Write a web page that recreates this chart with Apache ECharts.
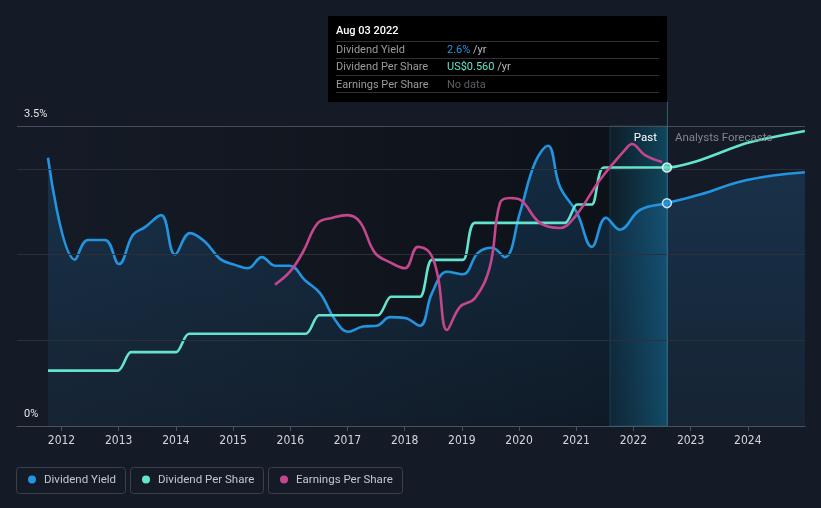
<!DOCTYPE html>
<html>
<head>
<meta charset="utf-8">
<script src="https://cdn.jsdelivr.net/npm/echarts@6/dist/echarts.min.js"></script>
<style>
html,body{margin:0;padding:0;background:#151b26;}
#c{width:821px;height:508px;}
</style>
</head>
<body>
<div id="c"></div>
<script>
// ---- data (x in decimal years) ----
const tickYears = [2012, 2013, 2014, 2015, 2016, 2017, 2018, 2019, 2020, 2021, 2022, 2023, 2024];
const todayYear = 2022.586; // Aug 03 2022
const highlightStart = 2021.59;

const yieldYears = [2011.764, 2012.236, 2012.463, 2012.760, 2013.005, 2013.250, 2013.460, 2013.740, 2013.984, 2014.246, 2014.509, 2014.771, 2015.033, 2015.260, 2015.505, 2015.733, 2015.995, 2016.257, 2016.520, 2016.782, 2017.010, 2017.271, 2017.516, 2017.743, 2018.005, 2018.267, 2018.477, 2018.740, 2019.019, 2019.281, 2019.526, 2019.753, 2020.016, 2020.278, 2020.505, 2020.715, 2021.012, 2021.274, 2021.519, 2021.764, 2022.114, 2022.586, 2023.163, 2023.984, 2024.998];
const yieldValues = [3.13, 1.94, 2.17, 2.17, 1.89, 2.23, 2.32, 2.46, 2.00, 2.25, 2.15, 1.95, 1.88, 1.84, 1.97, 1.87, 1.87, 1.70, 1.55, 1.24, 1.10, 1.16, 1.17, 1.27, 1.26, 1.17, 1.55, 1.80, 1.77, 2.02, 2.08, 1.97, 2.49, 3.07, 3.27, 2.79, 2.49, 2.09, 2.43, 2.29, 2.52, 2.60, 2.70, 2.87, 2.96];

const dpsYears = [2011.764, 2012.988, 2013.215, 2014.002, 2014.229, 2016.275, 2016.502, 2017.533, 2017.760, 2018.267, 2018.477, 2019.019, 2019.229, 2020.802, 2021.012, 2021.274, 2021.484, 2022.586, 2023.163, 2023.984, 2024.998];
const dpsValues = [0.12, 0.12, 0.16, 0.16, 0.20, 0.20, 0.24, 0.24, 0.28, 0.28, 0.36, 0.36, 0.44, 0.44, 0.48, 0.48, 0.56, 0.56, 0.576, 0.613, 0.639];

const epsYears = [2015.733, 2015.995, 2016.222, 2016.484, 2016.747, 2016.991, 2017.219, 2017.481, 2017.743, 2018.005, 2018.232, 2018.442, 2018.582, 2018.740, 2018.967, 2019.229, 2019.491, 2019.666, 2019.841, 2020.016, 2020.365, 2020.715, 2020.977, 2021.414, 2021.851, 2021.974, 2022.202, 2022.500];
const epsValues = [1.65, 1.80, 2.03, 2.37, 2.43, 2.46, 2.38, 2.02, 1.91, 1.84, 2.09, 2.02, 1.74, 1.12, 1.39, 1.49, 1.86, 2.60, 2.66, 2.64, 2.37, 2.31, 2.44, 2.87, 3.22, 3.29, 3.16, 3.08];

const yieldTicks = [0, 3.5];
const gridValues = [1, 2, 3];

const legendNames = ['Dividend Yield', 'Dividend Per Share', 'Earnings Per Share'];
const colors = ['#2394df', '#64e4cf', '#c4478d'];

// ---- build ----
const zip = (xs, ys) => xs.map((x, i) => [x, ys[i]]);
const todayIdxY = yieldYears.indexOf(todayYear);
const todayIdxD = dpsYears.indexOf(todayYear);

const chart = echarts.init(document.getElementById('c'), null, {renderer: 'canvas', width: 821, height: 508});
const axisFont = '"Liberation Sans Narrow", "DejaVu Sans Condensed", "Roboto", sans-serif';
const uiFont = 'Roboto, "Noto Sans", sans-serif';

const option = {
  backgroundColor: '#151b26',
  animation: false,
  grid: {left: 17, right: 16, top: 126, bottom: 82},
  xAxis: {
    type: 'value', min: 2011.222, max: 2025,
    axisLine: {lineStyle: {color: '#4b505a', width: 1}},
    axisTick: {customValues: tickYears, length: 5, lineStyle: {color: '#4b505a'}},
    axisLabel: {customValues: tickYears, color: '#d4d6da', fontFamily: axisFont, fontSize: 12, margin: 9, formatter: v => String(v)},
    splitLine: {show: false}
  },
  yAxis: [
    {type: 'value', min: 0, max: 3.5,
     axisLine: {show: false}, axisTick: {show: false}, splitLine: {show: false},
     axisLabel: {customValues: yieldTicks, inside: true, margin: 7, color: '#e4e4e4', fontFamily: uiFont, fontSize: 11,
                 verticalAlign: 'bottom', padding: [0, 0, 6, 0], formatter: v => v + '%'}},
    {type: 'value', min: 0, max: 0.65, show: false},
    {type: 'value', min: 0, max: 3.5, show: false}
  ],
  series: [
    {
      name: 'bg', type: 'line', data: [], z: 1, silent: true,
      markArea: {
        silent: true,
        data: [
          [{xAxis: yieldYears[0], yAxis: 0, itemStyle: {color: new echarts.graphic.LinearGradient(0, 0, 1, 0, [{offset: 0, color: 'rgba(0,0,0,0)'}, {offset: 1, color: 'rgba(0,0,0,0.42)'}])}}, {xAxis: todayYear, yAxis: 3.5}],
          [{xAxis: highlightStart, yAxis: 0, itemStyle: {color: new echarts.graphic.LinearGradient(0, 0, 1, 0, [{offset: 0, color: 'rgba(20,115,155,0.12)'}, {offset: 1, color: 'rgba(20,125,165,0.5)'}]), borderColor: 'rgba(60,150,180,0.25)', borderWidth: 1}}, {xAxis: todayYear, yAxis: 3.5}]
        ]
      },
      markLine: {
        silent: true, symbol: 'none', label: {show: false},
        data: gridValues.map(v => ({yAxis: v, lineStyle: {color: '#2b3039', width: 1, type: 'solid'}}))
          .concat([{yAxis: yieldTicks[1], lineStyle: {color: '#474c55', width: 1, type: 'solid'}}])
      }
    },
    {
      name: legendNames[0], type: 'line', z: 3, yAxisIndex: 0,
      data: zip(yieldYears, yieldValues), smooth: 0.4, showSymbol: false,
      lineStyle: {color: colors[0], width: 2.6},
      areaStyle: {color: new echarts.graphic.LinearGradient(0, 0, 0, 1, [{offset: 0, color: 'rgba(35,125,195,0.34)'}, {offset: 1, color: 'rgba(35,125,195,0.12)'}])}
    },
    {
      name: legendNames[1], type: 'line', z: 4, yAxisIndex: 1,
      data: zip(dpsYears, dpsValues), smooth: 0.25, showSymbol: false,
      lineStyle: {color: colors[1], width: 2.6}
    },
    {
      name: legendNames[2], type: 'line', z: 5, yAxisIndex: 2,
      data: zip(epsYears, epsValues), smooth: 0.4, showSymbol: false,
      lineStyle: {color: colors[2], width: 2.6}
    },
    {
      type: 'scatter', z: 8, yAxisIndex: 0, symbolSize: 9,
      data: [[yieldYears[todayIdxY], yieldValues[todayIdxY]]],
      itemStyle: {color: colors[0], borderColor: '#ffffff', borderWidth: 1.5}
    },
    {
      type: 'scatter', z: 8, yAxisIndex: 1, symbolSize: 9,
      data: [[dpsYears[todayIdxD], dpsValues[todayIdxD]]],
      itemStyle: {color: colors[1], borderColor: '#ffffff', borderWidth: 1.5}
    }
  ]
};
chart.setOption(option);

const tx = chart.convertToPixel({xAxisIndex: 0}, todayYear);
const plotTop = chart.convertToPixel({yAxisIndex: 0}, 3.5);
const plotBottom = chart.convertToPixel({yAxisIndex: 0}, 0);

// tooltip box
const boxL = 328, boxT = 16, boxR = tx, boxB = 102;
const rows = [
  {label: legendNames[0], value: yieldValues[todayIdxY].toFixed(1) + '%', unit: ' /yr', color: colors[0]},
  {label: legendNames[1], value: 'US$' + dpsValues[todayIdxD].toFixed(3), unit: ' /yr', color: colors[1]},
  {label: legendNames[2], value: 'No data', unit: '', color: '#5b5e63'}
];
const g = [];
g.push({type: 'rect', z: 10, shape: {x: boxL, y: boxT, width: boxR - boxL, height: boxB - boxT}, style: {fill: '#000000'}});
g.push({type: 'text', z: 11, style: {x: boxL + 8, y: 31, text: 'Aug 03 2022', fill: '#ffffff', font: '500 11px ' + uiFont, verticalAlign: 'middle'}});
const sepY = [41.5, 58.5, 75.5, 92.5];
sepY.forEach(y => g.push({type: 'line', z: 11, shape: {x1: boxL + 8, y1: y, x2: boxR - 8, y2: y}, style: {stroke: '#2f3033', lineWidth: 1}}));
rows.forEach((r, i) => {
  const y = 50 + i * 17.5;
  g.push({type: 'text', z: 11, style: {x: boxL + 8, y: y, text: r.label, fill: '#9b9b9b', font: '11px ' + uiFont, verticalAlign: 'middle'}});
  g.push({type: 'text', z: 11, style: {x: boxL + 119, y: y, text: '{v|' + r.value + '}{u|' + r.unit + '}', verticalAlign: 'middle',
    rich: {v: {fill: r.color, font: '11px ' + uiFont}, u: {fill: '#b8b8b8', font: '11px ' + uiFont}}}});
});
// vertical "today" line
g.push({type: 'line', z: 7, shape: {x1: tx + 0.5, y1: boxB, x2: tx + 0.5, y2: plotBottom}, style: {stroke: 'rgba(70,150,180,0.55)', lineWidth: 1}});
// Past / Forecast labels
g.push({type: 'text', z: 11, style: {x: tx - 10, y: plotTop + 12, text: 'Past', fill: '#ffffff', font: '11.5px ' + uiFont, align: 'right', verticalAlign: 'middle'}});
g.push({type: 'text', z: 11, style: {x: tx + 8, y: plotTop + 12, text: 'Analysts Forecasts', fill: '#80858d', font: '11.5px ' + uiFont, align: 'left', verticalAlign: 'middle'}});

// legend
const legendBoxes = [[16.5, 109], [130.5, 133], [268.5, 134]];
legendBoxes.forEach((b, i) => {
  g.push({type: 'rect', z: 10, shape: {x: b[0], y: 467.5, width: b[1], height: 26, r: 3}, style: {fill: 'none', stroke: '#3b404a', lineWidth: 1}});
  g.push({type: 'circle', z: 11, shape: {cx: b[0] + 15.5, cy: 479.5, r: 4}, style: {fill: colors[i]}});
  g.push({type: 'text', z: 11, style: {x: b[0] + 27.5, y: 480, text: legendNames[i], fill: '#c3c7cd', font: '11.5px ' + uiFont, verticalAlign: 'middle'}});
});

chart.setOption({graphic: {elements: g}});
</script>
</body>
</html>
